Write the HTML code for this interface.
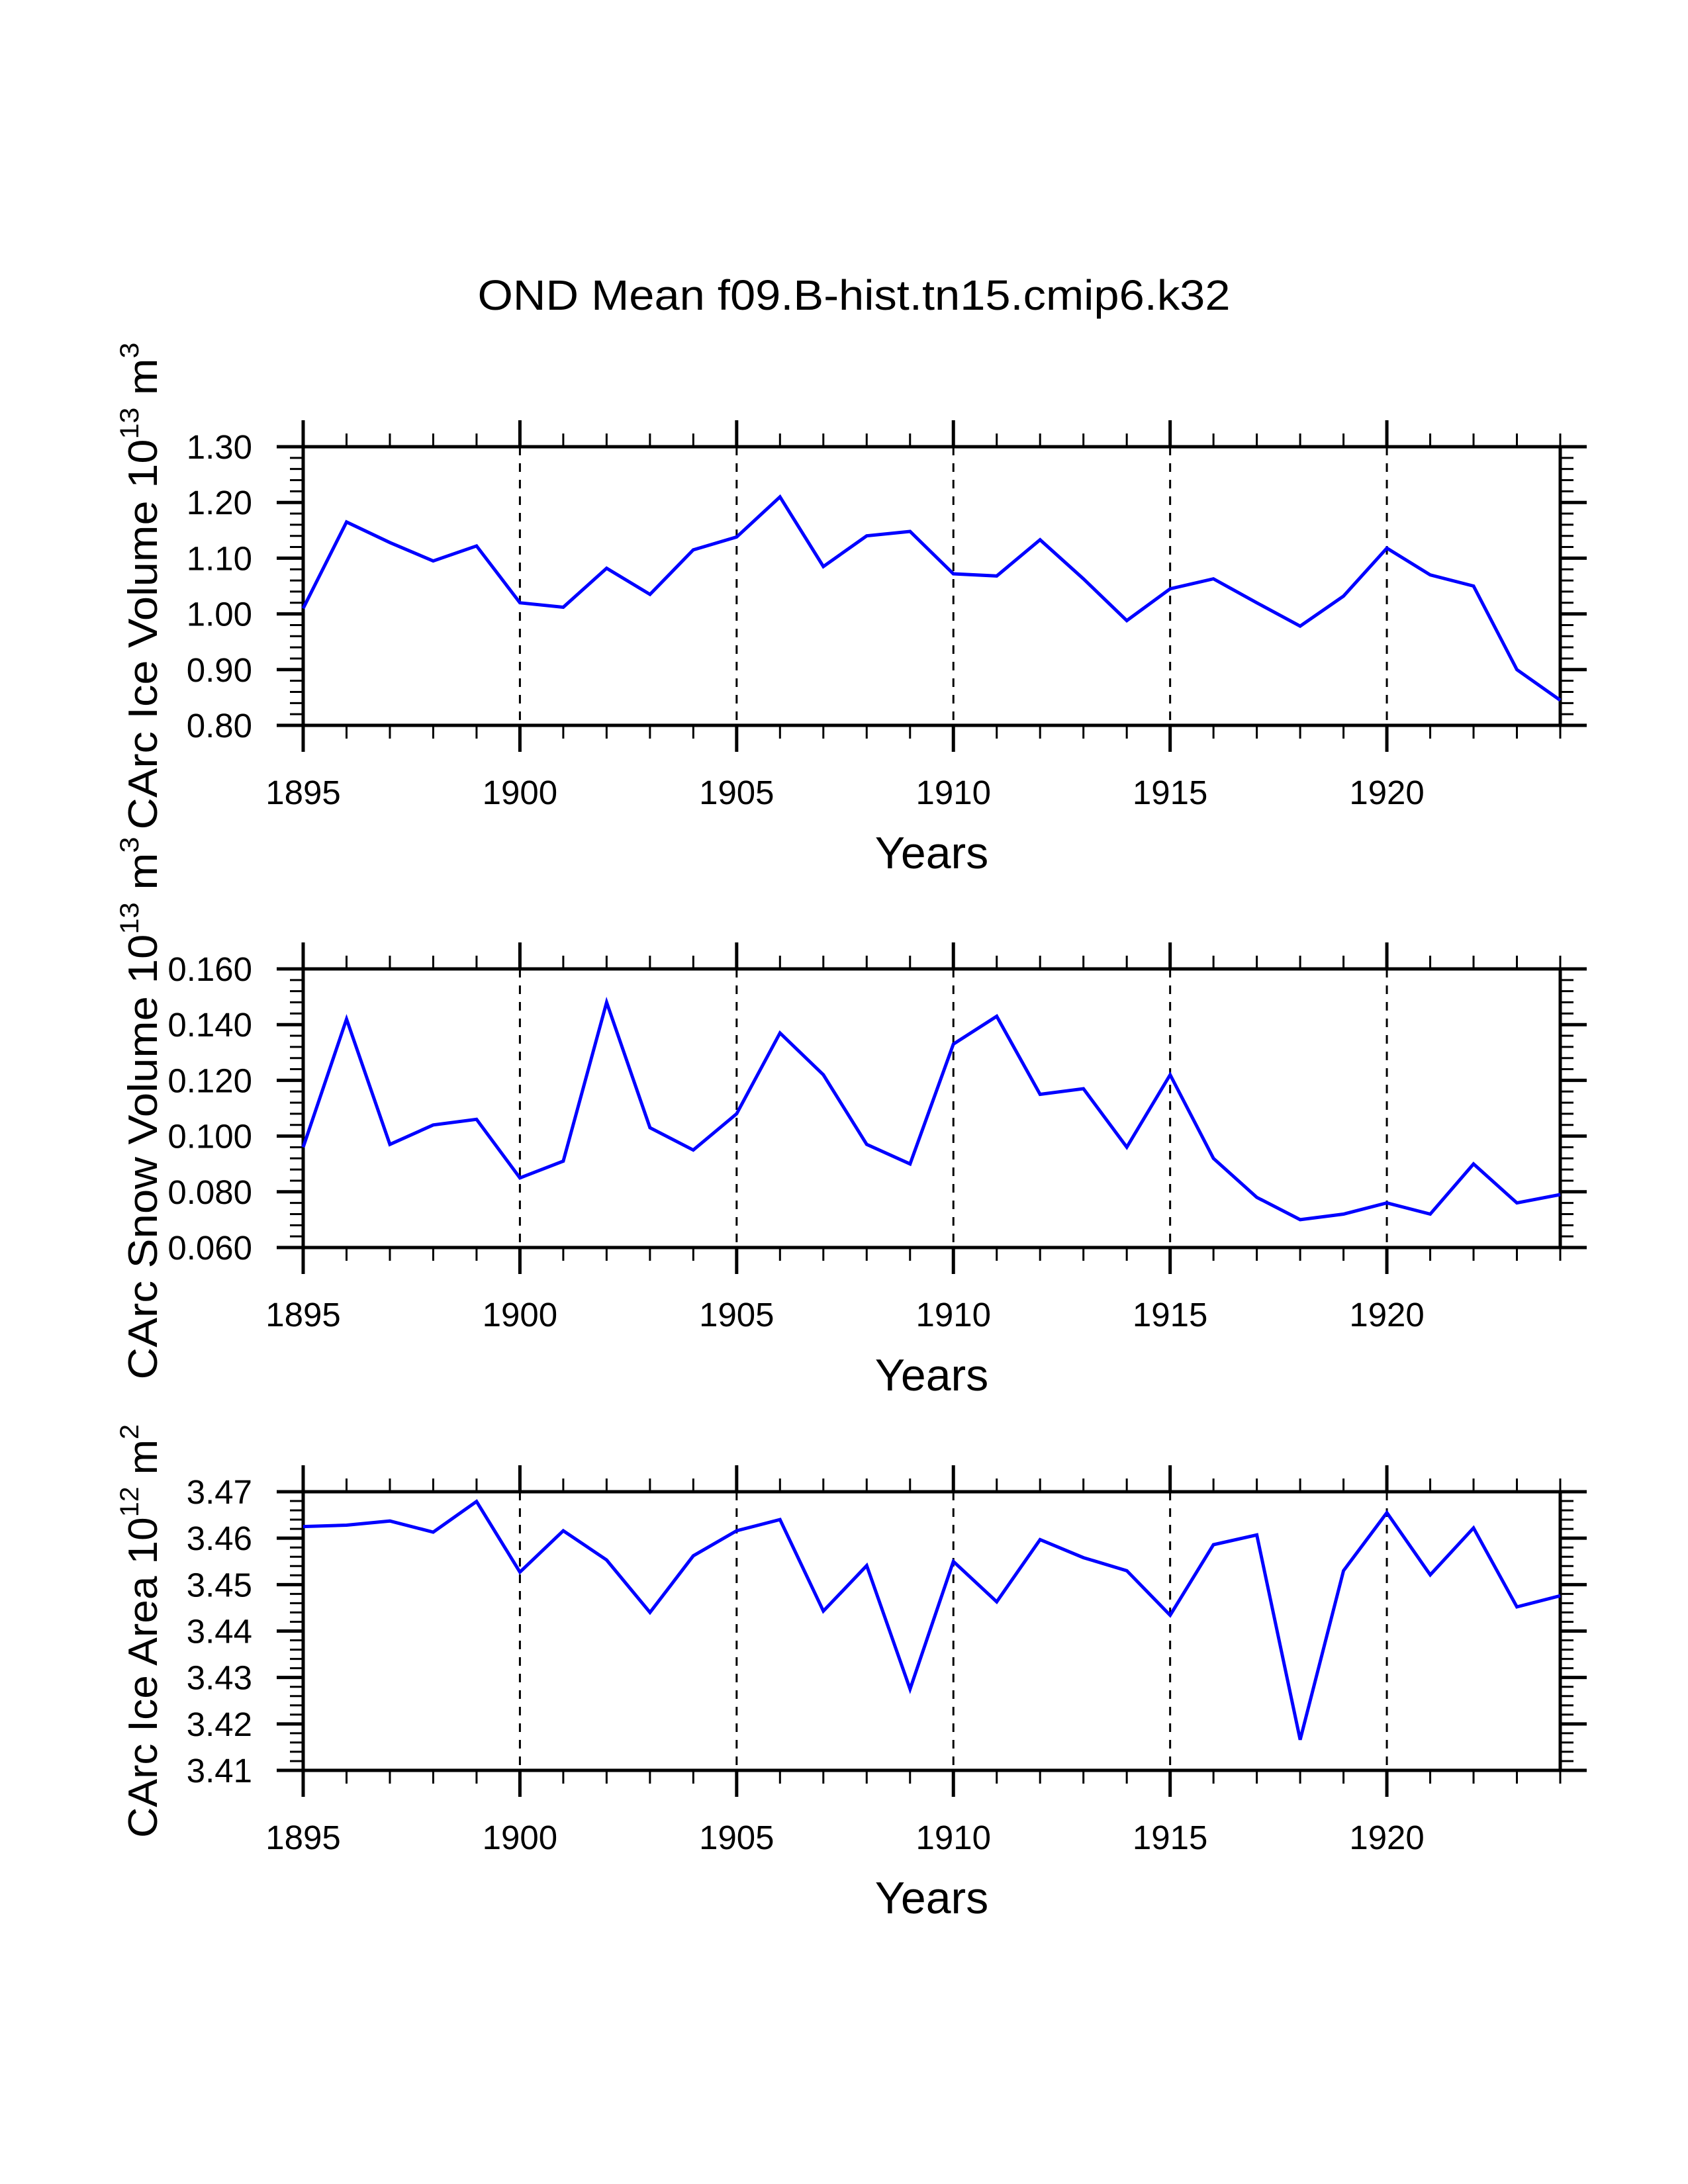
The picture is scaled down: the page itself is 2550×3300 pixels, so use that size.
<!DOCTYPE html>
<html><head><meta charset="utf-8"><style>
html,body{margin:0;padding:0;background:#fff;}
svg{display:block;font-family:"Liberation Sans",Arial,sans-serif;}
</style></head><body>
<svg id="chart" width="2550" height="3300" viewBox="0 0 2550 3300" xmlns="http://www.w3.org/2000/svg">
<rect x="0" y="0" width="2550" height="3300" fill="#fff"/>
<text x="1290" y="468" font-size="64" text-anchor="middle" textLength="1137" lengthAdjust="spacingAndGlyphs">OND Mean f09.B-hist.tn15.cmip6.k32</text>
</svg>
<script>
const years = [1895,1896,1897,1898,1899,1900,1901,1902,1903,1904,1905,1906,1907,1908,1909,1910,1911,1912,1913,1914,1915,1916,1917,1918,1919,1920,1921,1922,1923,1924];
const iceVolume = [1.01,1.165,1.128,1.095,1.122,1.02,1.012,1.082,1.035,1.115,1.138,1.21,1.085,1.14,1.148,1.072,1.068,1.133,1.063,0.988,1.045,1.063,1.02,0.978,1.032,1.118,1.07,1.05,0.90,0.845];
const snowVolume = [0.096,0.142,0.097,0.104,0.106,0.085,0.091,0.148,0.103,0.095,0.108,0.137,0.122,0.097,0.090,0.133,0.143,0.115,0.117,0.096,0.122,0.092,0.078,0.070,0.072,0.076,0.072,0.090,0.076,0.079];
const iceArea = [3.4625,3.4628,3.4637,3.4613,3.4679,3.4527,3.4616,3.4553,3.444,3.4562,3.4616,3.464,3.4443,3.4541,3.4275,3.455,3.4463,3.4597,3.4558,3.453,3.4434,3.4586,3.4607,3.4166,3.453,3.4655,3.4521,3.4622,3.4452,3.4476];
const xTickLabels = ["1895","1900","1905","1910","1915","1920"];
const iceVolumeTicks = ["0.80","0.90","1.00","1.10","1.20","1.30"];
const snowVolumeTicks = ["0.060","0.080","0.100","0.120","0.140","0.160"];
const iceAreaTicks = ["3.41","3.42","3.43","3.44","3.45","3.46","3.47"];

const NS = "http://www.w3.org/2000/svg";
const svg = document.getElementById('chart');
function mk(tag, attrs, parent){const e=document.createElementNS(NS,tag);for(const k in attrs)e.setAttribute(k,attrs[k]);(parent||svg).appendChild(e);return e;}

const L=458, R=2357, H=421;
const xMin=1895, xMax=1924;
function xs(v){return L+(v-xMin)/(xMax-xMin)*(R-L);}

const panels=[
 {name:'ice-volume', top:675, data:iceVolume, ticks:iceVolumeTicks, minorPer:5, title:'CArc Ice Volume 10', exp:'13', unit:' m', uexp:'3', tlen:736},
 {name:'snow-volume', top:1464, data:snowVolume, ticks:snowVolumeTicks, minorPer:5, title:'CArc Snow Volume 10', exp:'13', unit:' m', uexp:'3', tlen:820},
 {name:'ice-area', top:2254, data:iceArea, ticks:iceAreaTicks, minorPer:5, title:'CArc Ice Area 10', exp:'12', unit:' m', uexp:'2', tlen:625}
];

panels.forEach(p=>{
  const g=mk('g',{});
  
  
  const T=p.top, B=p.top+H;
  const yMin=parseFloat(p.ticks[0]), yMax=parseFloat(p.ticks[p.ticks.length-1]);
  const ys=v=>B-(v-yMin)/(yMax-yMin)*H;
  xTickLabels.forEach(l=>{const y=parseFloat(l); if(y===xMin) return;
    const ln=mk('line',{x1:xs(y),x2:xs(y),y1:T,y2:B,stroke:'#000','stroke-width':3,'stroke-dasharray':'13,12'},g);
    
    
  });
  for(let y=xMin;y<=xMax;y++){
    const major=(y-xMin)%5===0; const len=major?40:20; const w=major?5:3;
    mk('line',{x1:xs(y),x2:xs(y),y1:T-len,y2:T,stroke:'#000','stroke-width':w},g);
    mk('line',{x1:xs(y),x2:xs(y),y1:B,y2:B+len,stroke:'#000','stroke-width':w},g);
  }
  const nMaj=p.ticks.length-1;
  for(let i=0;i<=nMaj*p.minorPer;i++){
    const v=yMin+(yMax-yMin)*i/(nMaj*p.minorPer); const major=i%p.minorPer===0;
    const len=major?40:20, w=major?5:3; const y=ys(v);
    mk('line',{x1:L-len,x2:L,y1:y,y2:y,stroke:'#000','stroke-width':w},g);
    mk('line',{x1:R,x2:R+len,y1:y,y2:y,stroke:'#000','stroke-width':w},g);
  }
  p.ticks.forEach(t=>{
    const tx=mk('text',{x:381,y:ys(parseFloat(t))+18,'font-size':51,'text-anchor':'end'},g);
    tx.textContent=t;
    
    
  });
  xTickLabels.forEach(t=>{
    const tx=mk('text',{x:xs(parseFloat(t)),y:B+119,'font-size':51,'text-anchor':'middle'},g);
    tx.textContent=t;
    
    
  });
  const xt=mk('text',{x:(L+R)/2,y:B+216,'font-size':68,'text-anchor':'middle'},g);
  xt.textContent='Years';
  
  
  const cy=(T+B)/2;
  const yt=mk('text',{x:0,y:0,'font-size':62,'text-anchor':'middle',transform:'translate(237,'+cy+') rotate(-90)',textLength:p.tlen,lengthAdjust:'spacingAndGlyphs'},g);
  
  
  const s1=mk('tspan',{},yt); s1.textContent=p.title;
  const s2=mk('tspan',{dy:-28,'font-size':40},yt); s2.textContent=p.exp;
  const s3=mk('tspan',{dy:28},yt); s3.textContent=p.unit;
  const s4=mk('tspan',{dy:-28,'font-size':40},yt); s4.textContent=p.uexp;
  const fr=mk('rect',{x:L,y:T,width:R-L,height:H,fill:'none',stroke:'#000','stroke-width':5},g);
  
  
  const pts=years.map((yr,i)=>xs(yr).toFixed(1)+','+ys(p.data[i]).toFixed(1)).join(' ');
  const pl=mk('polyline',{points:pts,fill:'none',stroke:'#0000ff','stroke-width':5,'stroke-linejoin':'miter'},g);
  
  
});
</script>
</body></html>
